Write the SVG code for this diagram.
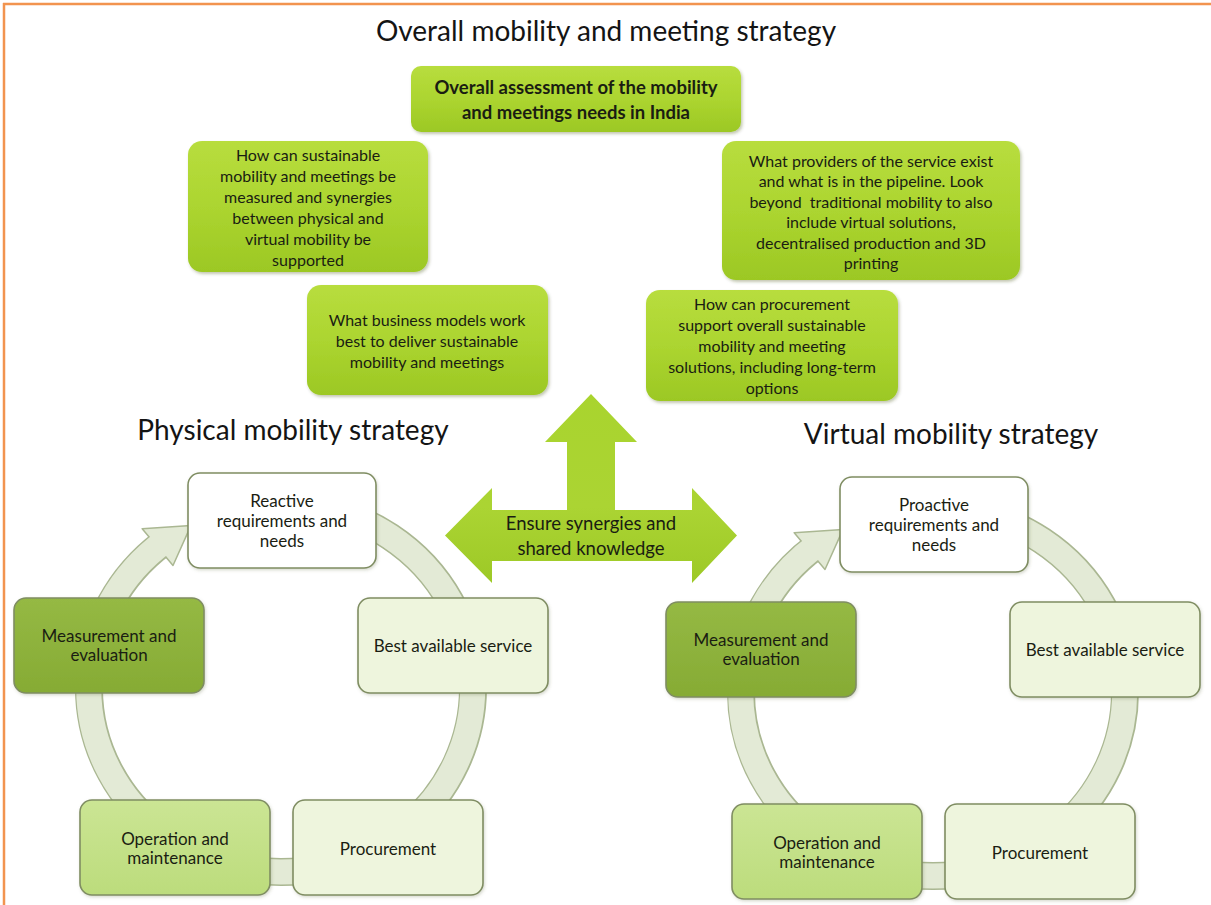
<svg xmlns="http://www.w3.org/2000/svg" width="1211" height="905" viewBox="0 0 1211 905">
  <defs>
    <linearGradient id="gGreen" x1="0" y1="0" x2="0" y2="1">
      <stop offset="0" stop-color="#b8dd3e"/>
      <stop offset="0.5" stop-color="#acd530"/>
      <stop offset="1" stop-color="#9cc824"/>
    </linearGradient>
    <linearGradient id="gArrow" x1="0" y1="0" x2="0" y2="1">
      <stop offset="0" stop-color="#a9d42e"/>
      <stop offset="0.6" stop-color="#abd433"/>
      <stop offset="1" stop-color="#9dc926"/>
    </linearGradient>
    <linearGradient id="gOp" x1="0" y1="0" x2="0" y2="1">
      <stop offset="0" stop-color="#cbe594"/>
      <stop offset="1" stop-color="#bcdc7c"/>
    </linearGradient>
    <linearGradient id="gMe" x1="0" y1="0" x2="0" y2="1">
      <stop offset="0" stop-color="#95b944"/>
      <stop offset="1" stop-color="#86ab34"/>
    </linearGradient>
    <filter id="sh" x="-10%" y="-10%" width="125%" height="130%">
      <feDropShadow dx="1.5" dy="2" stdDeviation="1.5" flood-color="#3a4a10" flood-opacity="0.3"/>
    </filter>
    <filter id="shs" x="-10%" y="-10%" width="125%" height="130%">
      <feDropShadow dx="1" dy="1.5" stdDeviation="1.5" flood-color="#5a6a40" flood-opacity="0.25"/>
    </filter>
  </defs>
  <style>
    .t { font-family: Lato, "Open Sans", "Liberation Sans", sans-serif; fill: #1a1d12; text-anchor: middle; }
    .head { font-size: 28px; fill: #141414; }
    .q { font-size: 16px; }
    .qb { font-size: 18.5px; font-weight: bold; }
    .c { font-size: 17px; }
    .gbox { fill: url(#gGreen); filter: url(#sh); }
    .cbox { stroke: #7f8d62; stroke-width: 1.6; filter: url(#shs); }
    .ringB { fill: none; stroke: #aab792; stroke-width: 28; }
    .ringF { fill: none; stroke: #e3eAd6; stroke-width: 25; }
    .ringH { fill: #e3ead6; stroke: #aab792; stroke-width: 1.5; stroke-linejoin: round; }
  </style>

  <rect x="0" y="0" width="1211" height="905" fill="#ffffff"/>
  <line x1="3" y1="4" x2="1211" y2="4" stroke="#f2944f" stroke-width="2.5"/>
  <line x1="4" y1="3" x2="4" y2="905" stroke="#f2944f" stroke-width="2.5"/>

  <text class="t head" x="606" y="41">Overall mobility and meeting strategy</text>
  <text class="t head" x="293" y="440">Physical mobility strategy</text>
  <text class="t head" x="951" y="444">Virtual mobility strategy</text>

  <g id="overall-assessment">
    <rect class="gbox" x="411" y="66" width="330" height="66" rx="10"/>
    <text class="t qb" x="576" y="94">Overall assessment of the mobility</text>
    <text class="t qb" x="576" y="119">and meetings needs in India</text>
  </g>

  <g id="q-measured">
    <rect class="gbox" x="188" y="141" width="240" height="131" rx="14"/>
    <text class="t q" x="308" y="161">How can sustainable</text>
    <text class="t q" x="308" y="182">mobility and meetings be</text>
    <text class="t q" x="308" y="203">measured and synergies</text>
    <text class="t q" x="308" y="224">between physical and</text>
    <text class="t q" x="308" y="245">virtual mobility be</text>
    <text class="t q" x="308" y="266">supported</text>
  </g>

  <g id="q-business">
    <rect class="gbox" x="307" y="285" width="241" height="110" rx="14"/>
    <text class="t q" x="427" y="326">What business models work</text>
    <text class="t q" x="427" y="347">best to deliver sustainable</text>
    <text class="t q" x="427" y="368">mobility and meetings</text>
  </g>

  <g id="q-providers">
    <rect class="gbox" x="722" y="141" width="298" height="139" rx="14"/>
    <text class="t q" x="871" y="167">What providers of the service exist</text>
    <text class="t q" x="871" y="187">and what is in the pipeline. Look</text>
    <text class="t q" x="871" y="208" xml:space="preserve">beyond  traditional mobility to also</text>
    <text class="t q" x="871" y="228">include virtual solutions,</text>
    <text class="t q" x="871" y="249">decentralised production and 3D</text>
    <text class="t q" x="871" y="269">printing</text>
  </g>

  <g id="q-procurement">
    <rect class="gbox" x="646" y="290" width="252" height="111" rx="14"/>
    <text class="t q" x="772" y="310">How can procurement</text>
    <text class="t q" x="772" y="331">support overall sustainable</text>
    <text class="t q" x="772" y="352">mobility and meeting</text>
    <text class="t q" x="772" y="373">solutions, including long-term</text>
    <text class="t q" x="772" y="394">options</text>
  </g>

  <g id="synergy-arrow">
    <path d="M591,394 L637,442 L615,442 L615,510 L692,510 L692,488 L737,535.5 L692,583 L692,561 L492,561 L492,583 L445,535.5 L492,488 L492,510 L567,510 L567,442 L545,442 Z" fill="url(#gArrow)"/>
    <text class="t" font-size="18.5" x="591" y="530">Ensure synergies and</text>
    <text class="t" font-size="18.5" x="591" y="555">shared knowledge</text>
  </g>

  <g id="connectors">
    <g id="physical-cycle-ring">
      <path class="ringB" d="M314.3,506.8 A192,184 0 1 1 162.8,543.0"/>
      <polygon class="ringH" points="142.2,528.7 190.9,525.6 173.0,565.5"/>
      <path class="ringF" d="M314.3,506.8 A192,184 0 1 1 164.5,541.5"/>
    </g>
    <g id="virtual-cycle-ring" transform="translate(652,4)">
      <path class="ringB" d="M314.3,506.8 A192,184 0 1 1 162.8,543.0"/>
      <polygon class="ringH" points="142.2,528.7 190.9,525.6 173.0,565.5"/>
      <path class="ringF" d="M314.3,506.8 A192,184 0 1 1 164.5,541.5"/>
    </g>
  </g>

  <g id="physical-reactive">
    <rect class="cbox" x="188" y="473" width="188" height="95" rx="12" fill="#ffffff"/>
    <text class="t c" x="282" y="507">Reactive</text>
    <text class="t c" x="282" y="527">requirements and</text>
    <text class="t c" x="282" y="547">needs</text>
  </g>
  <g id="physical-best">
    <rect class="cbox" x="358" y="598" width="190" height="95" rx="12" fill="#eef5dd"/>
    <text class="t c" x="453" y="652">Best available service</text>
  </g>
  <g id="physical-procurement">
    <rect class="cbox" x="293" y="800" width="190" height="95" rx="12" fill="#eef5dd"/>
    <text class="t c" x="388" y="855">Procurement</text>
  </g>
  <g id="physical-operation">
    <rect class="cbox" x="80" y="800" width="190" height="95" rx="12" fill="url(#gOp)"/>
    <text class="t c" x="175" y="845">Operation and</text>
    <text class="t c" x="175" y="864">maintenance</text>
  </g>
  <g id="physical-measurement">
    <rect class="cbox" x="14" y="598" width="190" height="95" rx="12" fill="url(#gMe)" stroke="#6e8732"/>
    <text class="t c" x="109" y="642">Measurement and</text>
    <text class="t c" x="109" y="661">evaluation</text>
  </g>

  <g id="virtual-proactive">
    <rect class="cbox" x="840" y="477" width="188" height="95" rx="12" fill="#ffffff"/>
    <text class="t c" x="934" y="511">Proactive</text>
    <text class="t c" x="934" y="531">requirements and</text>
    <text class="t c" x="934" y="551">needs</text>
  </g>
  <g id="virtual-best">
    <rect class="cbox" x="1010" y="602" width="190" height="95" rx="12" fill="#eef5dd"/>
    <text class="t c" x="1105" y="656">Best available service</text>
  </g>
  <g id="virtual-procurement">
    <rect class="cbox" x="945" y="804" width="190" height="95" rx="12" fill="#eef5dd"/>
    <text class="t c" x="1040" y="859">Procurement</text>
  </g>
  <g id="virtual-operation">
    <rect class="cbox" x="732" y="804" width="190" height="95" rx="12" fill="url(#gOp)"/>
    <text class="t c" x="827" y="849">Operation and</text>
    <text class="t c" x="827" y="868">maintenance</text>
  </g>
  <g id="virtual-measurement">
    <rect class="cbox" x="666" y="602" width="190" height="95" rx="12" fill="url(#gMe)" stroke="#6e8732"/>
    <text class="t c" x="761" y="646">Measurement and</text>
    <text class="t c" x="761" y="665">evaluation</text>
  </g>
</svg>
